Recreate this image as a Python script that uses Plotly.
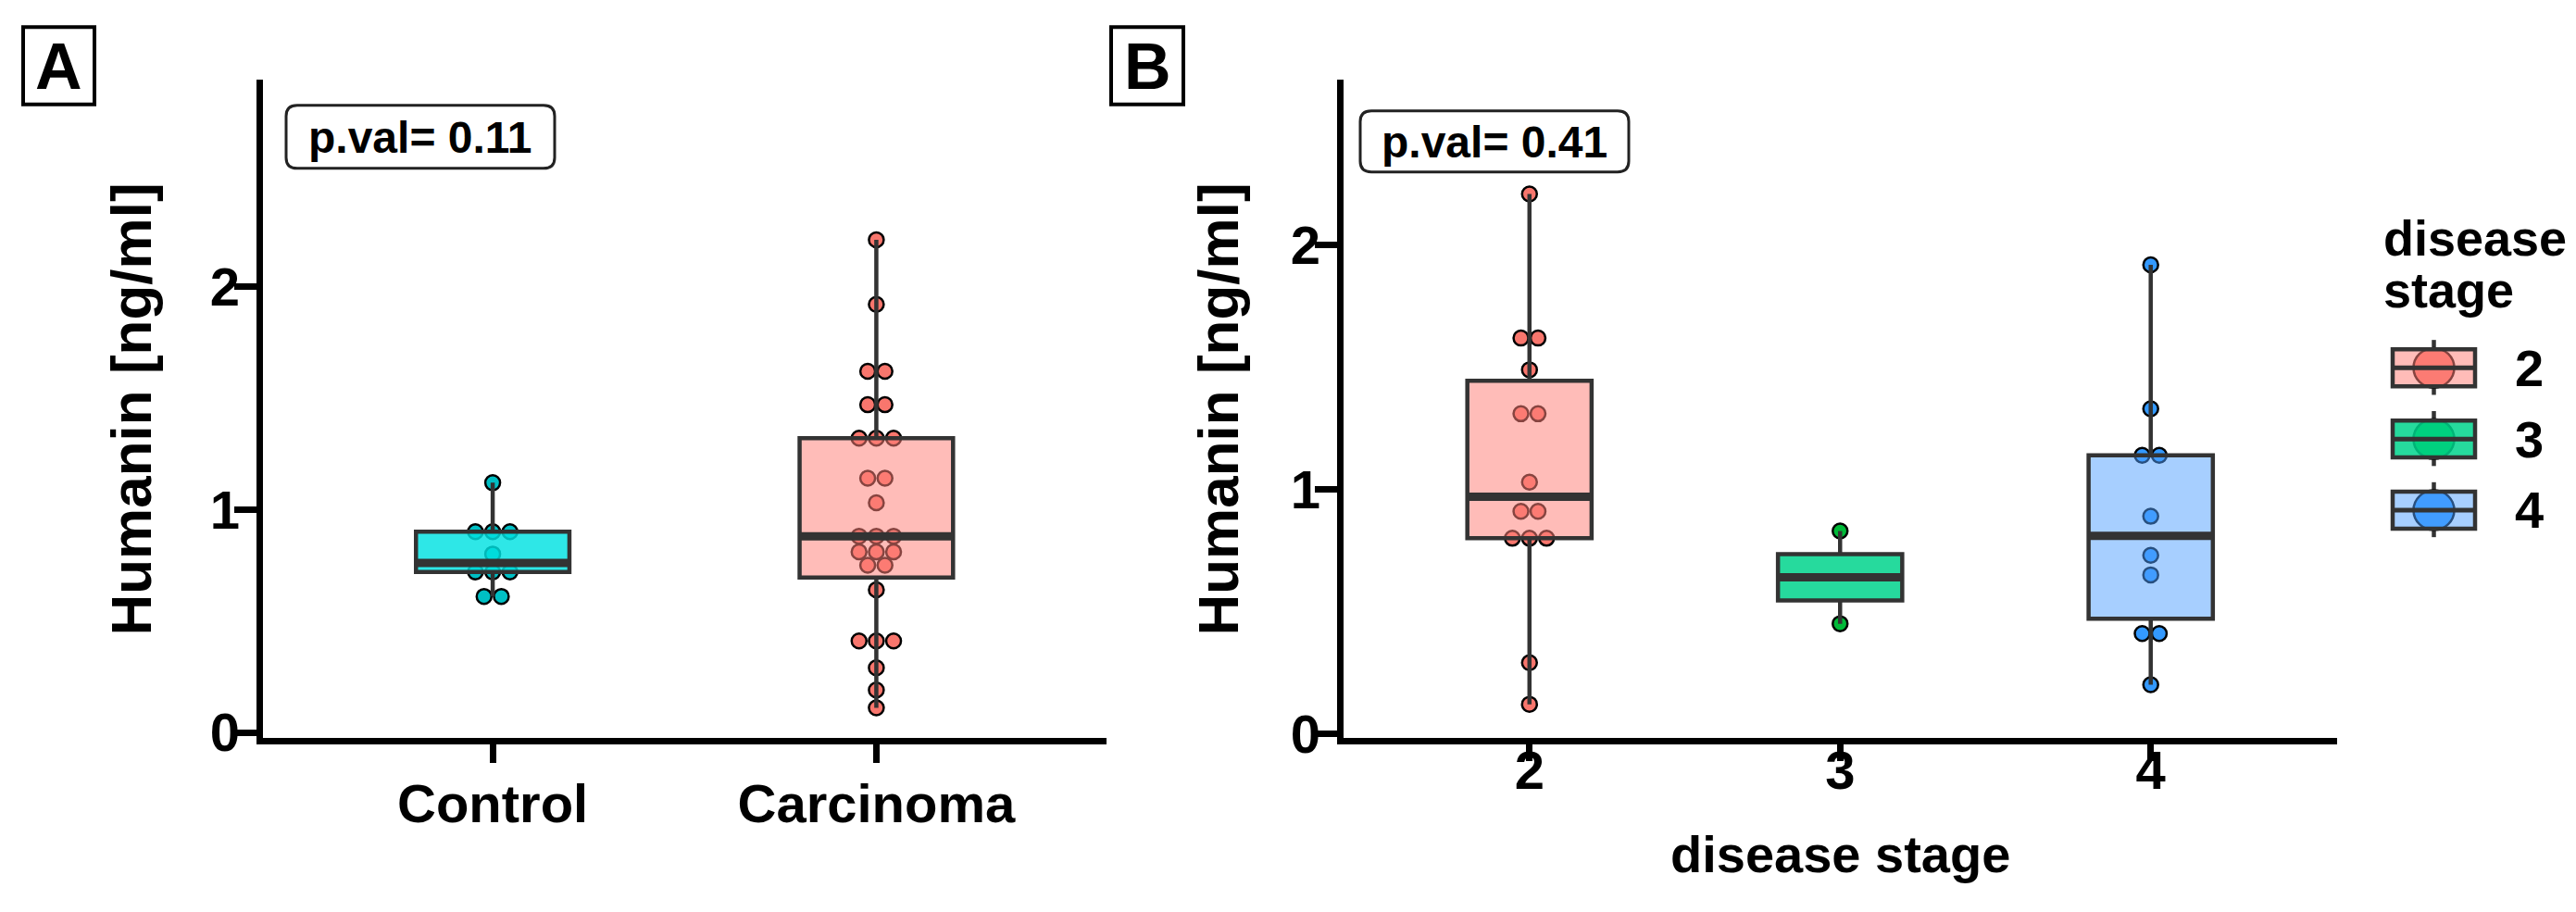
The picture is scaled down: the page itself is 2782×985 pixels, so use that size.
import numpy as np
import plotly.graph_objects as go
from collections import Counter

# ---------------- data ----------------
groups_a = ["Control", "Carcinoma"]
control_vals = [1.12, 0.90, 0.90, 0.90, 0.80, 0.72, 0.72, 0.72, 0.61, 0.61]
carcinoma_vals = [2.21, 1.92, 1.62, 1.62, 1.47, 1.47, 1.32, 1.32, 1.32, 1.14, 1.14,
                  1.03, 0.88, 0.88, 0.88, 0.81, 0.81, 0.81, 0.75, 0.75, 0.64,
                  0.41, 0.41, 0.41, 0.29, 0.19, 0.11]
pval_a = "p.val= 0.11"

stages = ["2", "3", "4"]
stage2_vals = [2.21, 1.62, 1.62, 1.49, 1.31, 1.31, 1.03, 0.91, 0.91, 0.80, 0.80, 0.80, 0.29, 0.12]
stage3_vals = [0.83, 0.45]
stage4_vals = [1.92, 1.33, 1.14, 1.14, 0.89, 0.73, 0.65, 0.41, 0.41, 0.20]
pval_b = "p.val= 0.41"

y_ticks = [0, 1, 2]
y_title = "Humanin [ng/ml]"
x_title_b = "disease stage"
legend_title = ["disease", "stage"]

# ---------------- styling ----------------
FONT = "Liberation Sans"
FIG_W, FIG_H = 2782, 985

def X(p):
    return p / FIG_W

def Y(p):
    return 1 - p / FIG_H

pt_colors_a = ["#00BFC4", "#F8766D"]
fill_colors_a = ["rgba(0,226,226,0.82)", "rgba(255,128,120,0.53)"]
pt_colors_b = ["#F8766D", "#00BA38", "#3399FF"]
fill_colors_b = ["rgba(255,128,120,0.53)", "rgba(0,212,140,0.85)", "rgba(80,160,255,0.5)"]
EDGE = "#333333"
BOX_W = 0.4


def box_stats(v):
    a = np.asarray(v, float)
    q1, med, q3 = np.percentile(a, [25, 50, 75])
    iqr = q3 - q1
    lo = a[a >= q1 - 1.5 * iqr].min()
    hi = a[a <= q3 + 1.5 * iqr].max()
    return q1, med, q3, lo, hi


def dot_offsets(v, spacing):
    cnt = Counter(v)
    seen = {}
    offs = []
    for val in v:
        k = cnt[val]
        i = seen.get(val, 0)
        seen[val] = i + 1
        offs.append((i - (k - 1) / 2) * spacing)
    return offs


fig = go.Figure()


def add_group(pos, vals, pcol, fcol, xa, ya, xo, yo, spacing):
    # dots on the base subplot, box + median on the overlay subplot (drawn above)
    offs = dot_offsets(vals, spacing)
    fig.add_trace(go.Scatter(
        x=[pos + o for o in offs], y=vals, mode="markers",
        marker=dict(size=16, color=pcol, line=dict(color="black", width=2.5)),
        xaxis=xa, yaxis=ya, hoverinfo="y"))
    q1, med, q3, lo, hi = box_stats(vals)
    fig.add_trace(go.Box(
        x=[pos], q1=[q1], median=[med], q3=[q3], lowerfence=[lo], upperfence=[hi],
        width=BOX_W, fillcolor=fcol, line=dict(color=EDGE, width=4.5),
        whiskerwidth=0, boxpoints=False, xaxis=xo, yaxis=yo))
    fig.add_trace(go.Scatter(
        x=[pos - BOX_W / 2, pos + BOX_W / 2], y=[med, med], mode="lines",
        line=dict(color=EDGE, width=9), xaxis=xo, yaxis=yo, hoverinfo="skip"))


for i, vals in enumerate([control_vals, carcinoma_vals]):
    add_group(i + 1, vals, pt_colors_a[i], fill_colors_a[i], "x", "y", "x3", "y3", 0.045)
for i, vals in enumerate([stage2_vals, stage3_vals, stage4_vals]):
    add_group(i + 1, vals, pt_colors_b[i], fill_colors_b[i], "x2", "y2", "x4", "y4", 0.055)

# ---------------- axes ----------------
tickfont = dict(family=FONT, size=58, color="black", weight="bold")
axis_common = dict(showline=True, linecolor="black", linewidth=7, ticks="outside",
                   tickwidth=7, tickcolor="black", showgrid=False,
                   zeroline=False, tickfont=tickfont)
ydom = [Y(819.5), Y(88)]
xa_rng = [0.4, 2.6]
xb_rng = [0.4, 3.6]
ya_rng = [-0.025, 2.93]
yb_rng = [-0.018, 2.68]
hidden = dict(visible=False, showgrid=False, zeroline=False)
fig.update_layout(
    width=FIG_W, height=FIG_H, margin=dict(l=0, r=0, t=0, b=0),
    plot_bgcolor="white", paper_bgcolor="white", showlegend=False,
    xaxis=dict(domain=[X(283.5), X(1195)], range=xa_rng, anchor="y", ticklen=20,
               tickvals=[1, 2], ticktext=groups_a, ticklabelstandoff=-6, **axis_common),
    yaxis=dict(domain=ydom, range=ya_rng, anchor="x", ticklen=24, ticklabelstandoff=-18,
               tickvals=y_ticks, **axis_common),
    xaxis2=dict(domain=[X(1450.5), X(2524)], range=xb_rng, anchor="y2", ticklen=18,
                tickvals=[1, 2, 3], ticktext=stages, ticklabelstandoff=-40, **axis_common),
    yaxis2=dict(domain=ydom, range=yb_rng, anchor="x2", ticklen=24, ticklabelstandoff=-18,
                tickvals=y_ticks, **axis_common),
    xaxis3=dict(overlaying="x", anchor="y3", range=xa_rng, **hidden),
    yaxis3=dict(overlaying="y", anchor="x3", range=ya_rng, **hidden),
    xaxis4=dict(overlaying="x2", anchor="y4", range=xb_rng, **hidden),
    yaxis4=dict(overlaying="y2", anchor="x4", range=yb_rng, **hidden),
)

# ---------------- annotations & decorations ----------------
ann = []
shapes = []


def text(xp, yp, s, size, xanchor="center", yanchor="middle", angle=0):
    ann.append(dict(x=X(xp), y=Y(yp), xref="paper", yref="paper", text=s,
                    showarrow=False, xanchor=xanchor, yanchor=yanchor,
                    textangle=angle,
                    font=dict(family=FONT, size=size, color="black", weight="bold")))


def rrect(x0, y0, x1, y1, r, lw, color):
    path = (f"M {X(x0 + r)},{Y(y0)} L {X(x1 - r)},{Y(y0)} "
            f"Q {X(x1)},{Y(y0)} {X(x1)},{Y(y0 + r)} L {X(x1)},{Y(y1 - r)} "
            f"Q {X(x1)},{Y(y1)} {X(x1 - r)},{Y(y1)} L {X(x0 + r)},{Y(y1)} "
            f"Q {X(x0)},{Y(y1)} {X(x0)},{Y(y1 - r)} L {X(x0)},{Y(y0 + r)} "
            f"Q {X(x0)},{Y(y0)} {X(x0 + r)},{Y(y0)} Z")
    shapes.append(dict(type="path", path=path, xref="paper", yref="paper",
                       line=dict(color=color, width=lw), fillcolor="white", layer="above"))


def rect(x0, y0, x1, y1, lw, color, fill="rgba(0,0,0,0)"):
    shapes.append(dict(type="rect", xref="paper", yref="paper",
                       x0=X(x0), x1=X(x1), y0=Y(y1), y1=Y(y0),
                       line=dict(color=color, width=lw), fillcolor=fill, layer="above"))


# panel letters
rect(25, 30, 102, 116, 4, "black")
text(63.5, 74, "A", 70)
rect(1200, 30, 1278, 116, 4, "black")
text(1239, 74, "B", 70)

# p-value boxes
rrect(309, 117, 599, 187, 12, 3, "#222222")
text(454, 153, pval_a, 48)
rrect(1469, 123, 1759, 191, 12, 3, "#222222")
text(1614, 158, pval_b, 48)

# axis titles
text(142, 455, y_title, 62, angle=-90)
text(1316, 455, y_title, 62, angle=-90)
text(1987, 948, x_title_b, 56)

# legend (drawn key glyphs)
text(2572, 264, legend_title[0], 54, xanchor="left")
text(2572, 322, legend_title[1], 54, xanchor="left")
for i, lab in enumerate(stages):
    cy = 408.5 + 79 * i
    cx = 2628.5
    shapes.append(dict(type="line", xref="paper", yref="paper",
                       x0=X(cx), x1=X(cx), y0=Y(cy - 31), y1=Y(cy + 30),
                       line=dict(color=EDGE, width=4.5), layer="above"))
    shapes.append(dict(type="circle", xref="paper", yref="paper",
                       x0=X(cx - 22), x1=X(cx + 22), y0=Y(cy + 22), y1=Y(cy - 22),
                       fillcolor=pt_colors_b[i], line=dict(color="black", width=2.5),
                       layer="above"))
    rect(2584, cy - 20.5, 2673, cy + 20.5, 4.5, EDGE, fill_colors_b[i])
    shapes.append(dict(type="line", xref="paper", yref="paper",
                       x0=X(2584), x1=X(2673), y0=Y(cy), y1=Y(cy),
                       line=dict(color=EDGE, width=5), layer="above"))
    text(2731, cy, lab, 56)

fig.update_layout(annotations=ann, shapes=shapes)
fig.write_html("out.html", config={"displayModeBar": False},
               post_script="document.body.style.margin='0';"
                           "document.body.style.overflow='hidden';")
